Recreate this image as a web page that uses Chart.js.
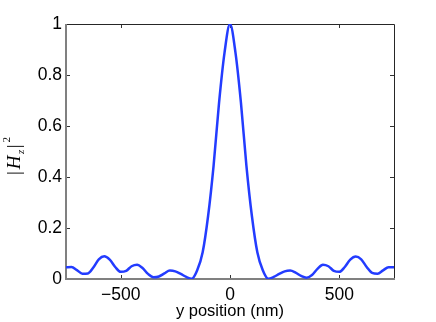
<!DOCTYPE html>
<html><head><meta charset="utf-8">
<script src="https://cdn.jsdelivr.net/npm/chart.js@4/dist/chart.umd.min.js"></script>
<style>html,body{margin:0;padding:0;background:#fff;overflow:hidden}</style>
</head><body>
<canvas id="c" width="436" height="322"></canvas>
<script>
// y position (nm)
const positions = [-750,-725,-700,-675,-650,-625,-600,-575,-550,-525,-500,-475,-450,-425,-400,-375,-350,-325,-300,-275,-250,-225,-200,-175,-150,-125,-100,-75,-50,-25,
  0,25,50,75,100,125,150,175,200,225,250,275,300,325,350,375,400,425,450,475,500,525,550,575,600,625,650,675,700,725,750];
// |Hz|^2
const intensity = [0.046,0.047,0.035,0.021,0.022,0.045,0.077,0.089,0.076,0.047,0.028,0.032,0.050,0.056,0.043,0.020,0.007,0.010,0.022,0.033,0.030,0.020,0.008,0.001,0.034,0.105,0.248,0.445,0.692,0.888,
  1.000,0.888,0.692,0.445,0.248,0.105,0.034,0.001,0.008,0.020,0.030,0.033,0.025,0.012,0.005,0.016,0.040,0.056,0.050,0.032,0.028,0.047,0.076,0.088,0.077,0.047,0.024,0.021,0.034,0.046,0.046];
const xTicks = [-500, 0, 500];
const yTicks = [0, 0.2, 0.4, 0.6, 0.8, 1];
const xRange = [-750, 750];
const yRange = [0, 1];
const xTitle = 'y position (nm)';

const points = positions.map((p, i) => ({x: p, y: intensity[i]}));
const FONT = '"Liberation Sans", Arial, Helvetica, sans-serif';

const framePlugin = {
  id: 'frame',
  beforeDatasetsDraw(chart) {
    const ctx = chart.ctx, a = chart.chartArea;
    const xs = chart.scales.x, ys = chart.scales.y;
    ctx.save();
    ctx.strokeStyle = '#333'; ctx.lineWidth = 1;
    ctx.beginPath();
    xTicks.forEach(v => {
      const px = Math.round(xs.getPixelForValue(v)) + 0.5;
      ctx.moveTo(px, a.bottom); ctx.lineTo(px, a.bottom - 4);
      ctx.moveTo(px, a.top); ctx.lineTo(px, a.top + 4);
    });
    yTicks.forEach(v => {
      const py = Math.round(ys.getPixelForValue(v)) + 0.5;
      ctx.moveTo(a.left, py); ctx.lineTo(a.left + 4, py);
      ctx.moveTo(a.right, py); ctx.lineTo(a.right - 4, py);
    });
    ctx.stroke();
    ctx.strokeStyle = '#262626'; ctx.lineWidth = 1;
    ctx.beginPath();
    ctx.moveTo(a.left, a.top + 0.5); ctx.lineTo(a.right + 0.5, a.top + 0.5);
    ctx.lineTo(a.right + 0.5, a.bottom);
    ctx.stroke();
    ctx.strokeStyle = '#808080'; ctx.lineWidth = 2;
    ctx.beginPath();
    ctx.moveTo(a.left, a.top); ctx.lineTo(a.left, a.bottom);
    ctx.lineTo(a.right + 1, a.bottom);
    ctx.stroke();
    ctx.restore();
  },
  afterDraw(chart) {
    const ctx = chart.ctx, a = chart.chartArea;
    ctx.save();
    ctx.fillStyle = '#000';
    ctx.font = '16.5px ' + FONT;
    ctx.textAlign = 'center'; ctx.textBaseline = 'alphabetic';
    ctx.fillText(xTitle, (a.left + a.right) / 2, 316);
    ctx.translate(20, 156);
    ctx.rotate(-Math.PI / 2);
    ctx.textAlign = 'left'; ctx.textBaseline = 'alphabetic';
    const serif = '"Liberation Serif", "Times New Roman", serif';
    const parts = [
      {t: '|', f: '19px ' + serif, dy: 0, g: 2},
      {t: 'H', f: 'italic 19px ' + serif, dy: 0, g: 1.5},
      {t: 'z', f: 'italic 11px ' + serif, dy: 4, g: 1.5},
      {t: '|', f: '19px ' + serif, dy: 0, g: 2},
      {t: '2', f: '11px ' + serif, dy: -10, g: 0}
    ];
    let total = 0;
    parts.forEach(p => { ctx.font = p.f; p.w = ctx.measureText(p.t).width + p.g; total += p.w; });
    let x = -total / 2;
    parts.forEach(p => { ctx.font = p.f; ctx.fillText(p.t, x, p.dy); x += p.w; });
    ctx.restore();
  }
};

new Chart(document.getElementById('c'), {
  type: 'line',
  data: {
    datasets: [{
      data: points,
      borderColor: 'rgb(35,60,255)',
      borderWidth: 2.5,
      pointRadius: 0,
      fill: false,
      cubicInterpolationMode: 'monotone'
    }]
  },
  options: {
    responsive: false,
    animation: false,
    devicePixelRatio: 1,
    layout: {padding: {left: 0, right: 42, top: 24, bottom: 0}},
    plugins: {legend: {display: false}, tooltip: {enabled: false}},
    scales: {
      x: {
        type: 'linear', min: xRange[0], max: xRange[1],
        grid: {display: false, drawTicks: false},
        border: {display: false},
        afterBuildTicks: s => { s.ticks = xTicks.map(v => ({value: v})); },
        afterFit: s => { s.height = 43; },
        ticks: {
          color: '#000', padding: 6, maxRotation: 0,
          font: {family: FONT, size: 17.5},
          callback: v => (v < 0 ? '\u2212' + Math.abs(v) : String(v))
        }
      },
      y: {
        type: 'linear', min: yRange[0], max: yRange[1],
        grid: {display: false, drawTicks: false},
        border: {display: false},
        afterBuildTicks: s => { s.ticks = yTicks.map(v => ({value: v})); },
        afterFit: s => { s.width = 66; },
        ticks: {
          color: '#000', padding: 4,
          font: {family: FONT, size: 17.5},
          callback: v => String(Math.round(v * 10) / 10)
        }
      }
    }
  },
  plugins: [framePlugin]
});
</script>
</body></html>
